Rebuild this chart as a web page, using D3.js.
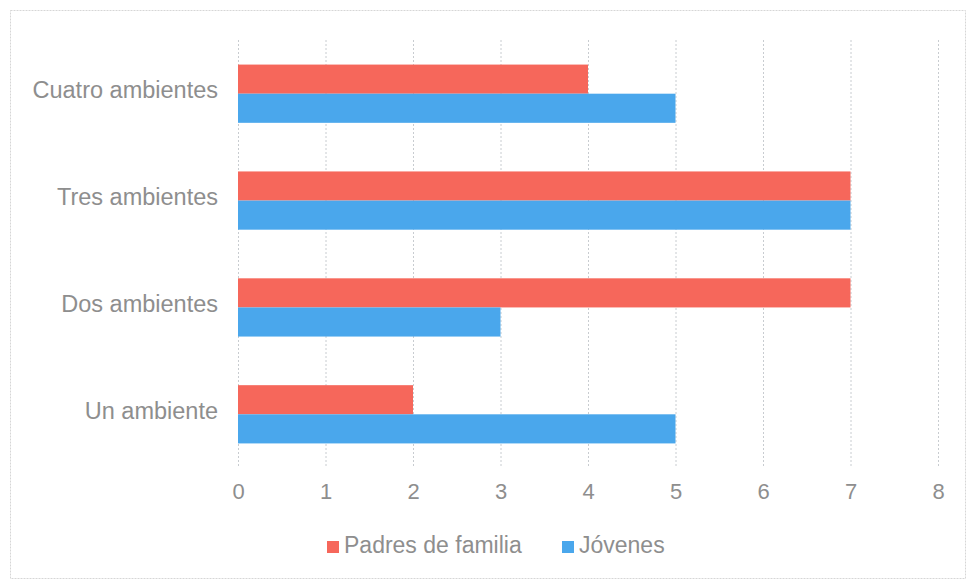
<!DOCTYPE html>
<html><head><meta charset="utf-8">
<script src="https://cdn.jsdelivr.net/npm/d3@7"></script>
<style>body{margin:0;background:#fff;font-family:"Liberation Sans",Arial,sans-serif}</style>
</head><body>
<svg id="c" width="968" height="586"></svg>
<script>
const categories = ["Cuatro ambientes","Tres ambientes","Dos ambientes","Un ambiente"];
const seriesNames = ["Padres de familia","Jóvenes"];
const padres = [4, 7, 7, 2];
const jovenes = [5, 7, 3, 5];
const ticks = [0,1,2,3,4,5,6,7,8];
const colors = ["#f6675b","#4aa7ec"];

const FONT = "Liberation Sans, Arial, sans-serif";
const TXT = "#8e8e8e";
const svg = d3.select("#c");
svg.append("rect").attr("x",10.5).attr("y",10.5).attr("width",955).attr("height",568)
  .attr("fill","none").attr("stroke","#d6d6d6").attr("stroke-dasharray","2,1");

const x = d3.scaleLinear().domain([0,8]).range([238,938]);
const y = d3.scaleBand().domain(categories).range([40,468]).paddingInner(0.455).paddingOuter(0.23);
const y1 = d3.scaleBand().domain(seriesNames).range([0,y.bandwidth()]);

// gridlines
svg.append("g").selectAll("line").data(ticks).join("line")
  .attr("x1",d=>x(d)+0.5).attr("x2",d=>x(d)+0.5).attr("y1",40).attr("y2",468)
  .attr("stroke","#c8ccd0").attr("stroke-width",1).attr("stroke-dasharray","2,2");

const data = categories.map((c,i)=>({c, vals:[padres[i], jovenes[i]]}));
const g = svg.append("g");
data.forEach(d=>{
  d.vals.forEach((v,j)=>{
    g.append("rect").attr("x",x(0)).attr("y",y(d.c)+y1(seriesNames[j]))
      .attr("width",x(v)-x(0)).attr("height",y1.bandwidth()).attr("fill",colors[j]);
  });
});

// axes
const xAxis = d3.axisBottom(x).tickValues(ticks).tickSize(0).tickPadding(0);
const xa = svg.append("g").attr("transform","translate(0,483)").call(xAxis);
xa.select(".domain").remove();
xa.selectAll("text").attr("fill",TXT).attr("font-size",22).attr("font-family",FONT);

const yAxis = d3.axisLeft(y).tickSize(0).tickPadding(20);
const ya = svg.append("g").attr("transform",`translate(${x(0)},-3)`).call(yAxis);
ya.select(".domain").remove();
ya.selectAll("text").attr("fill",TXT).attr("font-size",23.5).attr("font-family",FONT);

// legend
const leg = svg.append("g");
const legOff = [0, 235];
seriesNames.forEach((s,i)=>{
  const lx = 327 + legOff[i];
  leg.append("rect").attr("x",lx).attr("y",541).attr("width",12).attr("height",12).attr("fill",colors[i]);
  leg.append("text").attr("x",lx+17).attr("y",553).text(s)
    .attr("fill",TXT).attr("font-size",23).attr("font-family",FONT);
});
</script>
</body></html>
